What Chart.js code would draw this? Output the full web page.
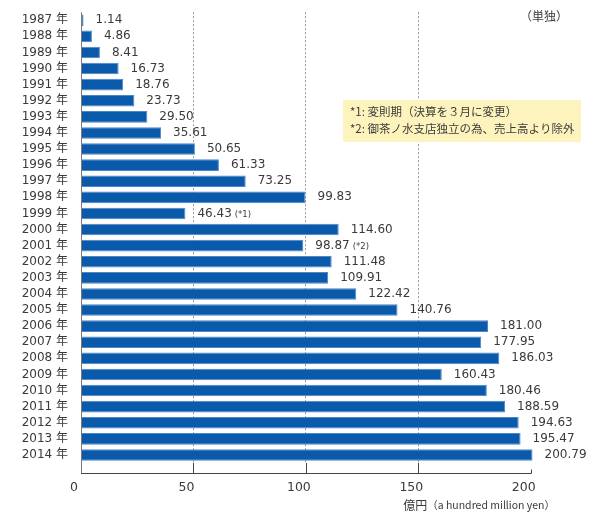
<!DOCTYPE html>
<html lang="ja">
<head>
<meta charset="utf-8">
<script src="https://cdn.jsdelivr.net/npm/chart.js@4"></script>
<style>
  html, body { margin: 0; padding: 0; background: #fff; }
  #wrap { width: 594px; height: 520px; }
</style>
</head>
<body>
<div id="wrap"><canvas id="salesChart" width="594" height="520"></canvas></div>
<script>
// 売上高の推移（単独）
const years = [1987, 1988, 1989, 1990, 1991, 1992, 1993, 1994, 1995, 1996, 1997, 1998, 1999, 2000,
               2001, 2002, 2003, 2004, 2005, 2006, 2007, 2008, 2009, 2010, 2011, 2012, 2013, 2014];
const sales = [1.14, 4.86, 8.41, 16.73, 18.76, 23.73, 29.50, 35.61, 50.65, 61.33, 73.25, 99.83, 46.43, 114.60,
               98.87, 111.48, 109.91, 122.42, 140.76, 181.00, 177.95, 186.03, 160.43, 180.46, 188.59, 194.63, 195.47, 200.79];
const noteYears = [1999, 2001];
const noteMarks = ['(*1)', '(*2)'];
const xTicks = [0, 50, 100, 150, 200];
const noteLines = ['*1: 変則期（決算を３月に変更）', '*2: 御茶ノ水支店独立の為、売上高より除外'];
const unitLabel = '（単独）';
const axisUnit = ['億円', '（a hundred million yen）'];

const CJK = '"Noto Sans CJK JP", "Noto Sans", sans-serif';
const NUM = '"DejaVu Sans", "Noto Sans CJK JP", sans-serif';
const TEXT = '#3a3a3a';
Chart.defaults.font.family = NUM;

// 棒の右側に数値を表示
const valueLabels = {
    id: 'valueLabels',
    afterDatasetsDraw(chart) {
        const ctx = chart.ctx;
        const meta = chart.getDatasetMeta(0);
        ctx.save();
        ctx.fillStyle = TEXT;
        ctx.textBaseline = 'middle';
        meta.data.forEach((bar, i) => {
            const txt = sales[i].toFixed(2);
            const x = bar.x + 12;
            ctx.font = '12px ' + NUM;
            ctx.fillText(txt, x, bar.y);
            const k = noteYears.indexOf(years[i]);
            if (k >= 0) {
                const w = ctx.measureText(txt).width;
                ctx.font = '8.5px ' + NUM;
                ctx.fillText(noteMarks[k], x + w + 3, bar.y + 1);
            }
        });
        ctx.restore();
    }
};

// 軸線・目盛り・注記
const extras = {
    id: 'extras',
    afterDraw(chart) {
        const { ctx, chartArea: a, scales: { x } } = chart;
        const axisY = a.bottom + 10.5;
        ctx.save();
        ctx.lineWidth = 1;
        // 縦軸
        ctx.strokeStyle = '#7a7a7a';
        ctx.beginPath();
        ctx.moveTo(a.left + 0.5, a.top);
        ctx.lineTo(a.left + 0.5, axisY);
        ctx.stroke();
        // 横軸と目盛り
        const last = xTicks[xTicks.length - 1];
        const endX = Math.round(x.getPixelForValue(last)) + 0.5;
        ctx.strokeStyle = '#444';
        ctx.beginPath();
        ctx.moveTo(a.left, axisY);
        ctx.lineTo(endX, axisY);
        xTicks.forEach(v => {
            if (v === 0) return;
            const px = Math.round(x.getPixelForValue(v)) + 0.5;
            ctx.moveTo(px, v === last ? axisY - 4 : a.bottom);
            ctx.lineTo(px, axisY);
        });
        ctx.stroke();

        // 注記ボックス
        const bx = a.right - 190, by = 100;
        ctx.fillStyle = '#fdf4bd';
        ctx.fillRect(bx, by, 238, 42);
        ctx.fillStyle = TEXT;
        ctx.textBaseline = 'middle';
        ctx.font = '11.5px ' + CJK;
        ctx.fillText(noteLines[0], bx + 7, by + 12);
        ctx.fillText(noteLines[1], bx + 7, by + 29);

        // 単位
        ctx.font = '12px ' + CJK;
        ctx.textAlign = 'right';
        ctx.fillText(unitLabel, a.right + 35, 16);

        ctx.textAlign = 'left';
        ctx.font = '10.5px ' + CJK;
        const w2 = ctx.measureText(axisUnit[1]).width;
        ctx.font = '12px ' + CJK;
        const w1 = ctx.measureText(axisUnit[0]).width;
        const ux = a.right + 22 - w1 - w2;
        ctx.fillText(axisUnit[0], ux, a.bottom + 42);
        ctx.font = '10.5px ' + CJK;
        ctx.fillText(axisUnit[1], ux + w1, a.bottom + 42);
        ctx.restore();
    }
};

new Chart(document.getElementById('salesChart').getContext('2d'), {
    type: 'bar',
    data: {
        labels: years.map(y => y + ' 年'),
        datasets: [{
            data: sales,
            backgroundColor: '#0a5aab',
            borderColor: '#4d87c7',
            borderWidth: 1,
            borderSkipped: 'left',
            barPercentage: 0.72,
            categoryPercentage: 1
        }]
    },
    options: {
        indexAxis: 'y',
        responsive: false,
        animation: false,
        layout: { padding: { top: 8, right: 61, left: 0, bottom: 0 } },
        plugins: {
            legend: { display: false },
            tooltip: { enabled: false }
        },
        scales: {
            x: {
                min: 0,
                max: 201,
                afterBuildTicks: s => { s.ticks = xTicks.map(v => ({ value: v })); },
                afterFit: s => { s.height = 57; },
                grid: {
                    drawTicks: false,
                    lineWidth: 1,
                    color: c => (c.tick && (c.tick.value === 0 || c.tick.value === 200)) ? 'rgba(0,0,0,0)' : '#9a9a9a'
                },
                border: { display: false, dash: [2, 2] },
                ticks: {
                    padding: 17,
                    labelOffset: -7,
                    color: TEXT,
                    font: { size: 12.5 }
                }
            },
            y: {
                afterFit: s => { s.width = 81; },
                grid: { display: false },
                border: { display: false },
                ticks: {
                    autoSkip: false,
                    padding: 5,
                    color: TEXT,
                    font: { size: 12 }
                }
            }
        }
    },
    plugins: [valueLabels, extras]
});
</script>
</body>
</html>
